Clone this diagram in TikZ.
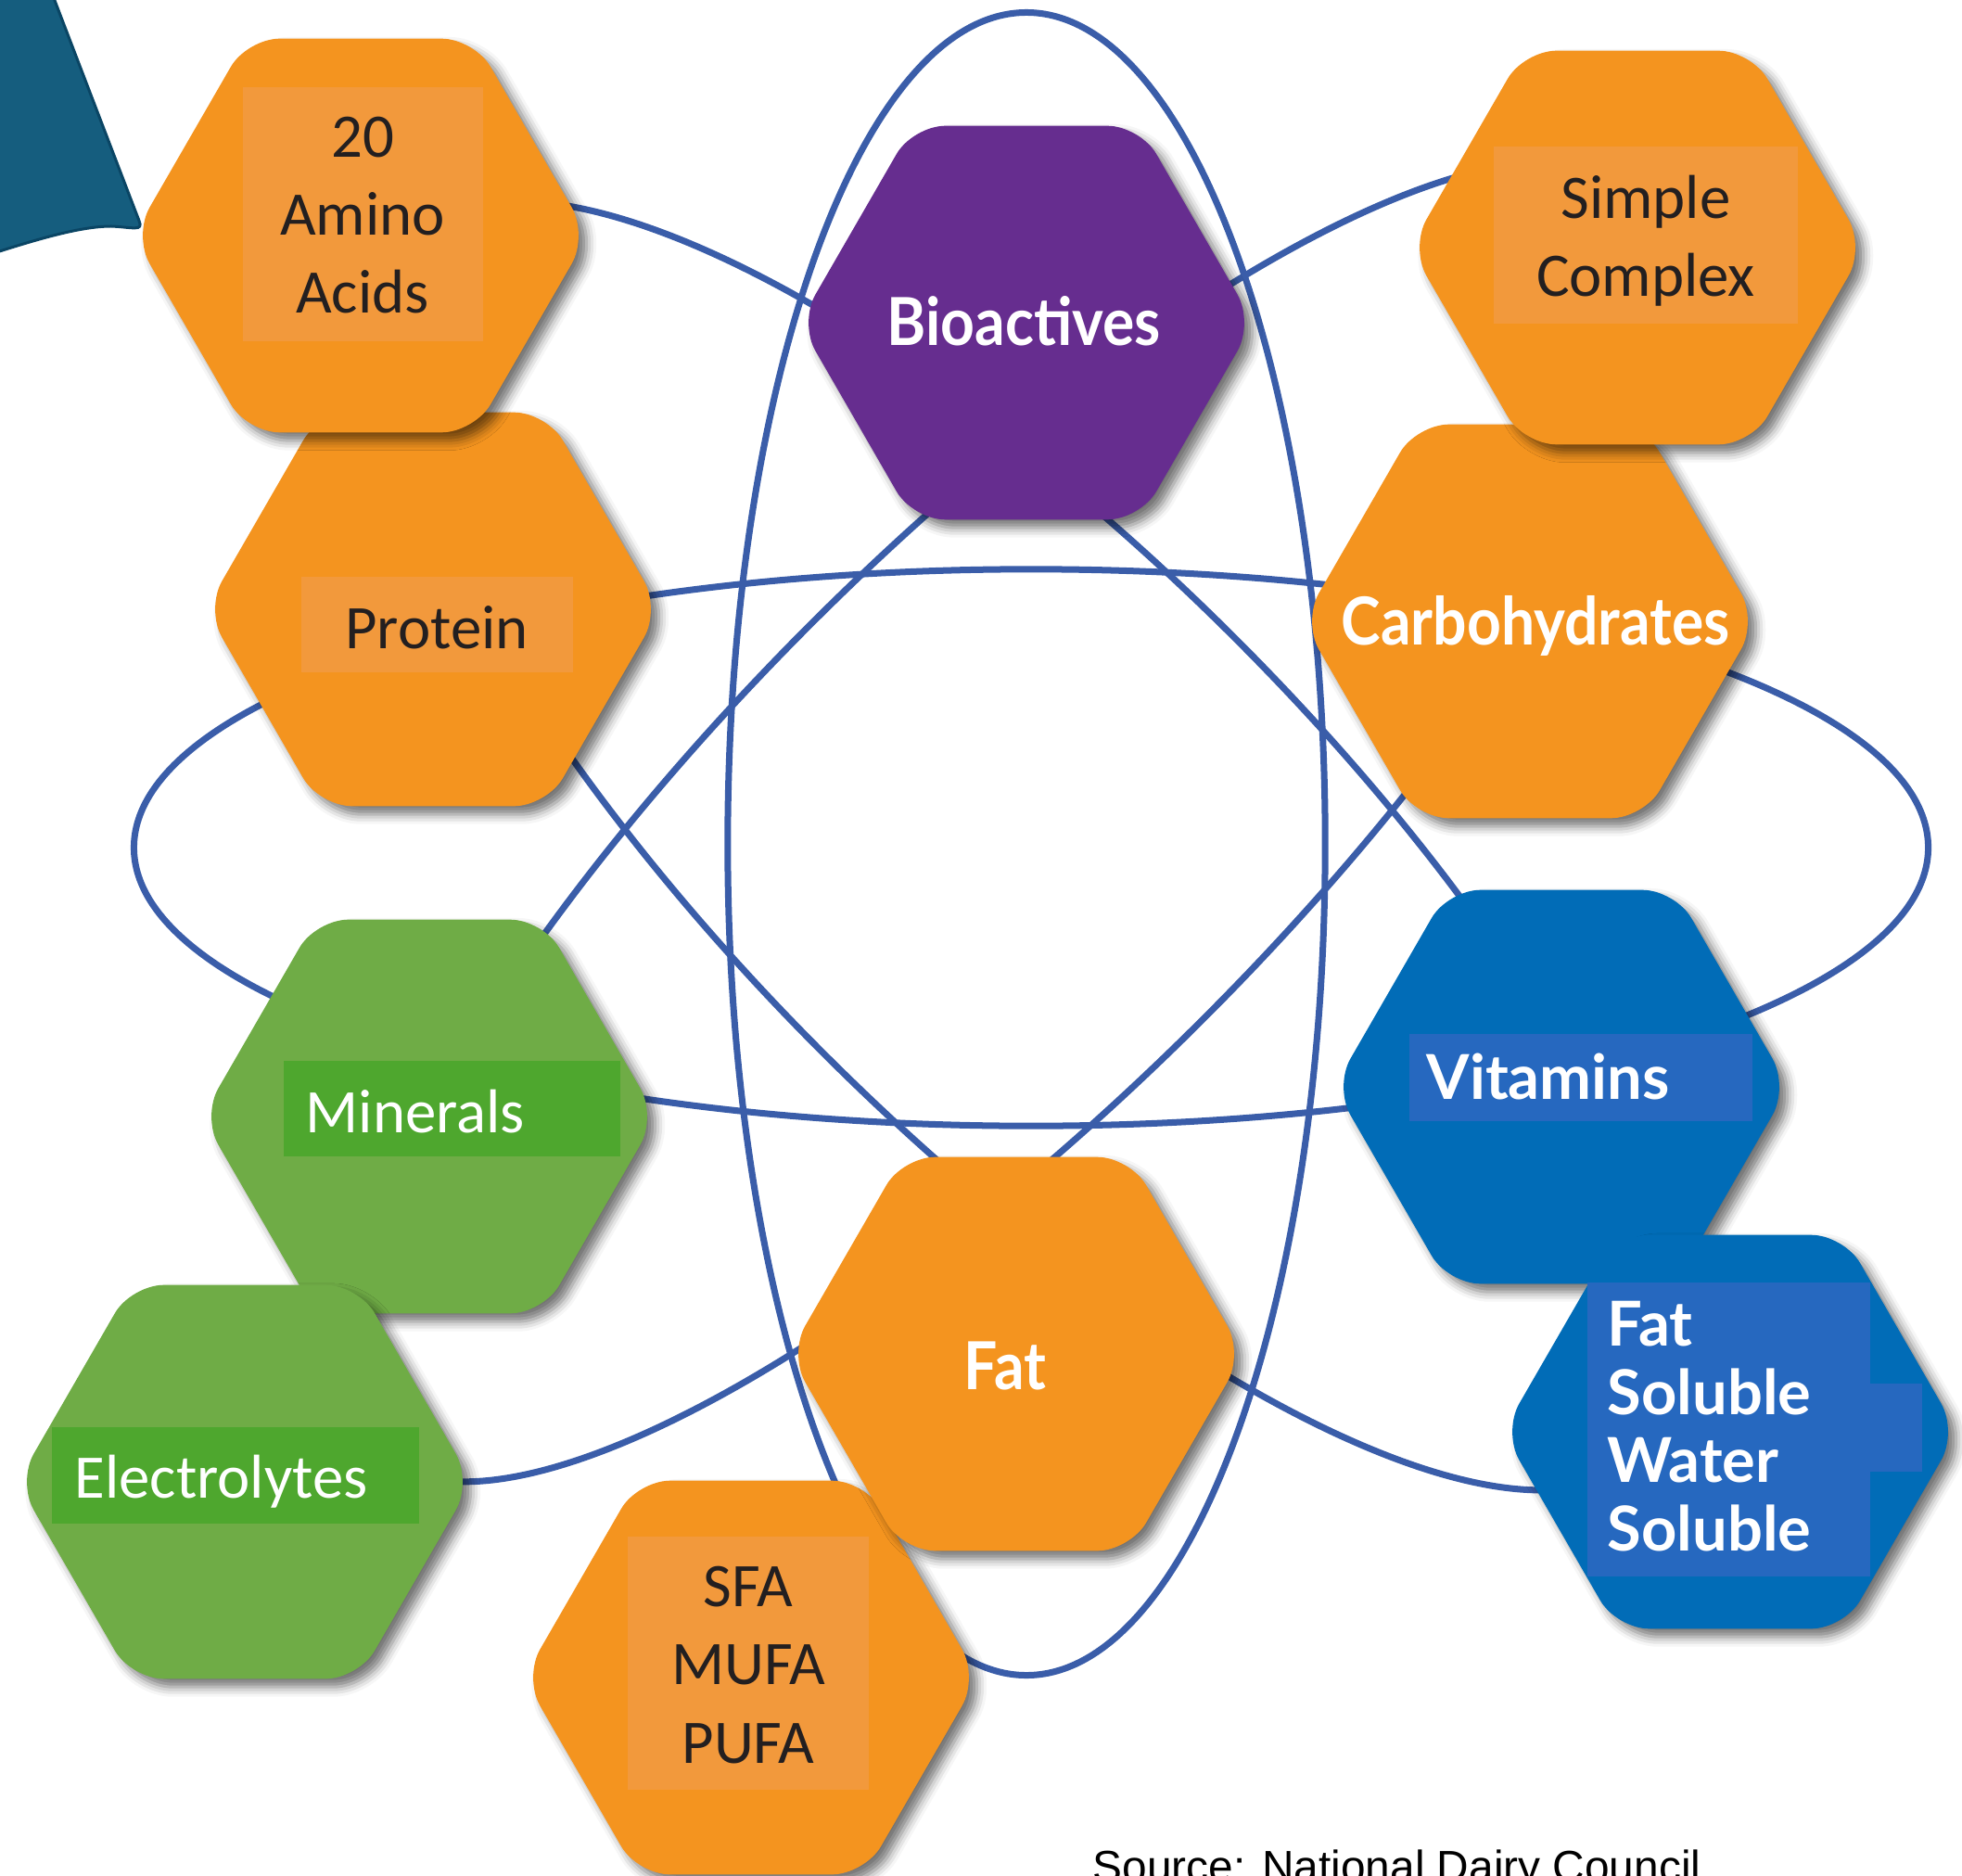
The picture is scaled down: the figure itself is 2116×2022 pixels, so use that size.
\documentclass[tikz,border=0pt]{standalone}
\usepackage{fontspec}
\setmainfont{Carlito}
\newfontfamily\geofont[FakeStretch=0.9]{Lato}
\newfontfamily\heavyfont{Lato}
\newfontfamily\arialfont{Liberation Sans}
\usetikzlibrary{shapes.geometric,shadows.blur}

\definecolor{hexorange}{HTML}{F4941F}
\definecolor{hexpurple}{HTML}{662D8F}
\definecolor{hexblue}{HTML}{016CB7}
\definecolor{hexgreen}{HTML}{6FAC46}
\definecolor{boxorange}{HTML}{F2993C}
\definecolor{boxgreen}{HTML}{4EA72E}
\definecolor{boxblue}{HTML}{2668BF}
\definecolor{orbitblue}{HTML}{3A5DA9}
\definecolor{tealfill}{HTML}{155D7E}
\definecolor{tealline}{HTML}{0A4564}
\definecolor{darktext}{HTML}{231F20}

\begin{document}
\begin{tikzpicture}[x=0.01cm,y=-0.01cm,
  hex/.style={regular polygon, regular polygon sides=6, minimum size=4.9cm,
    inner sep=0pt, outer sep=0pt, rounded corners=0.35cm,
    blur shadow={shadow xshift=2.5pt, shadow yshift=-2.5pt,
      shadow blur radius=3pt, shadow opacity=55}},
  orbit/.style={draw=orbitblue, line width=0.07cm},
  tagbox/.style={inner sep=0pt, outer sep=0pt, anchor=north west},
  calibri/.style={inner sep=0pt, font=\fontsize{19pt}{23.9pt}\selectfont},
  geo/.style={inner sep=0pt, text=white, font=\geofont\bfseries\fontsize{20.3pt}{24pt}\selectfont},
  heavy/.style={inner sep=0pt, text=white, align=left, anchor=base west,
    font=\heavyfont\bfseries\fontsize{19pt}{20.9pt}\selectfont}]

\useasboundingbox (0,0) rectangle (2116,2022);
\clip (0,0) rectangle (2116,2022);

% corner ribbon
\filldraw[fill=tealfill, draw=tealline, line width=0.03cm]
  (-10,-10) -- (55,-10) -- (150,238)
  .. controls (155,250) and (143,245) .. (120,244)
  .. controls (87,244) and (40,258) .. (-10,274) -- cycle;

% orbits
\draw[orbit] (1112,914) ellipse [x radius=9.67cm, y radius=3.0cm];
\draw[orbit] (1107,910) ellipse [x radius=3.22cm, y radius=8.96cm];
\draw[orbit, rotate around={-45:(1110,912)}] (1110,912) ellipse [x radius=9.3cm, y radius=3.15cm];
\draw[orbit, rotate around={45:(1086,886)}] (1086,886) ellipse [x radius=9.6cm, y radius=3.0cm];

% hexagons
\node[hex, fill=hexorange] (protein) at (467,657) {};
\node[hex, fill=hexorange] (amino) at (389,254) {};
\node[hex, fill=hexorange] (carbo) at (1650,670) {};
\node[hex, fill=hexorange] (simple) at (1766,267) {};
\node[hex, fill=hexpurple] (bio) at (1107,348) {};
\node[hex, fill=hexorange] (sfa) at (810,1809) {};
\node[hex, fill=hexorange] (fat) at (1096,1460) {};
\node[hex, fill=hexgreen] (min) at (463,1204) {};
\node[hex, fill=hexgreen] (elec) at (264,1598) {};
\node[hex, fill=hexblue] (vit) at (1684,1172) {};
\node[hex, fill=hexblue] (fatsol) at (1866,1544) {};

% label boxes
\node[tagbox, fill=boxorange, minimum width=2.59cm, minimum height=2.74cm] (aminobox) at (262,94) {};
\node[tagbox, fill=boxorange, minimum width=2.93cm, minimum height=1.03cm] (proteinbox) at (325,622) {};
\node[tagbox, fill=boxorange, minimum width=3.28cm, minimum height=1.91cm] (simplebox) at (1611,158) {};
\node[tagbox, fill=boxorange, minimum width=2.60cm, minimum height=2.73cm] (sfabox) at (677,1657) {};
\node[tagbox, fill=boxgreen, minimum width=3.63cm, minimum height=1.03cm] (minbox) at (306,1144) {};
\node[tagbox, fill=boxgreen, minimum width=3.96cm, minimum height=1.04cm] (elecbox) at (56,1539) {};
\node[tagbox, fill=boxblue, minimum width=3.70cm, minimum height=0.94cm] (vitbox) at (1520,1115) {};
\node[tagbox, fill=boxblue, minimum width=3.05cm, minimum height=3.17cm] (fatsolbox) at (1712,1383) {};
\node[tagbox, fill=boxblue, minimum width=0.56cm, minimum height=0.95cm] (fatsolext) at (2017,1492) {};

% labels (multi-line nodes are placed by the baseline of their last line)
\node[calibri, text=darktext, align=center, anchor=base] (aminotxt) at (391,338) {20\\Amino\\Acids};
\node[calibri, text=darktext, anchor=base] (proteintxt) at (471,699) {Protein};
\node[calibri, text=darktext, align=center, anchor=base] (simpletxt) at (1775,320) {Simple\\Complex};
\node[calibri, text=darktext, align=center, anchor=base] (sfatxt) at (807,1901) {SFA\\MUFA\\PUFA};
\node[calibri, text=white, anchor=base west] (mintxt) at (329,1221) {Minerals};
\node[calibri, text=white, anchor=base west] (electxt) at (80,1615) {Electrolytes};
\node[geo, anchor=base] (biotxt) at (1104,373) {Bioactives};
\node[geo, anchor=base] (carbotxt) at (1656,695) {Carbohydrates};
\node[geo, anchor=base] (fattxt) at (1084,1498) {Fat};
\node[heavy] (vittxt) at (1538,1185) {Vitamins};
\node[heavy] (fatsoltxt) at (1733,1672) {Fat\\Soluble\\Water\\Soluble};

\node[inner sep=0pt, anchor=base west, font=\arialfont\fontsize{13.6pt}{16pt}\selectfont] (source)
  at (1178,2029) {Source: National Dairy Council};
\end{tikzpicture}
\end{document}
